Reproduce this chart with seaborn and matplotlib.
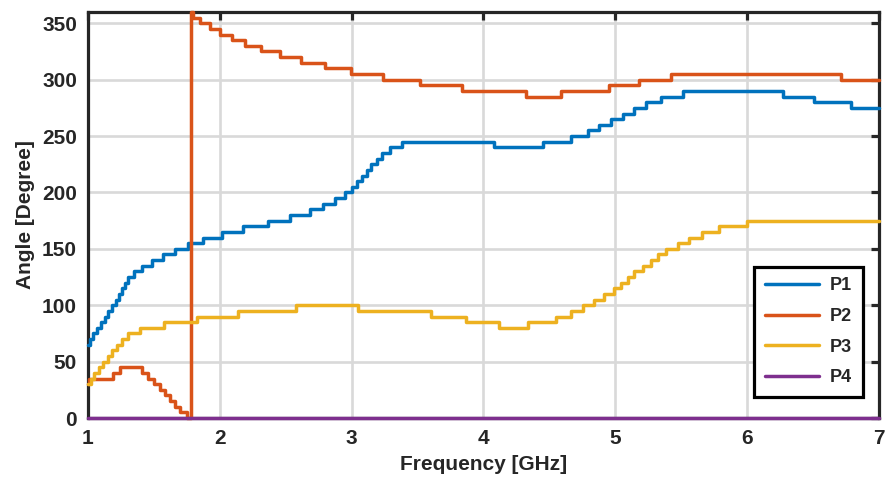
import numpy as np
import pandas as pd
import matplotlib
matplotlib.use("Agg")
import matplotlib.pyplot as plt
import seaborn as sns

# ---- data (step breakpoints in GHz, angle level starting at each breakpoint) ----
p1_freq = [1.000, 1.015, 1.040, 1.070, 1.100, 1.126, 1.152, 1.184, 1.215, 1.235,
           1.255, 1.278, 1.305, 1.348, 1.411, 1.482, 1.571, 1.659, 1.760, 1.874,
           2.013, 2.177, 2.366, 2.530, 2.682, 2.783, 2.871, 2.947, 3.000, 3.040,
           3.080, 3.115, 3.150, 3.190, 3.230, 3.290, 3.380, 4.083, 4.450, 4.664,
           4.790, 4.879, 4.967, 5.055, 5.144, 5.232, 5.346, 5.510, 6.270, 6.510,
           6.785, 7.000]
p1_angle = [65, 70, 75, 80, 85, 90, 95, 100, 105, 110,
            115, 120, 125, 130, 135, 140, 145, 150, 155, 160,
            165, 170, 175, 180, 185, 190, 195, 200, 205, 210,
            215, 220, 225, 230, 235, 240, 245, 240, 245, 250,
            255, 260, 265, 270, 275, 280, 285, 290, 285, 280,
            275, 275]

p2_freq = [1.000, 1.010, 1.190, 1.240, 1.410, 1.457, 1.500, 1.545, 1.583, 1.621,
           1.659, 1.697, 1.748, 1.780, 1.798, 1.848, 1.924, 2.000, 2.089, 2.189,
           2.316, 2.455, 2.619, 2.795, 2.998, 3.237, 3.515, 3.838, 4.323, 4.588,
           4.955, 5.182, 5.420, 6.710, 7.000]
p2_angle = [30, 35, 40, 45, 40, 35, 30, 25, 20, 15,
            10, 5, 0, 360, 355, 350, 345, 340, 335, 330,
            325, 320, 315, 310, 305, 300, 295, 290, 285, 290,
            295, 300, 305, 300, 300]

p3_freq = [1.000, 1.020, 1.045, 1.080, 1.110, 1.150, 1.180, 1.220, 1.260, 1.306,
           1.395, 1.575, 1.830, 2.139, 2.581, 3.048, 3.604, 3.864, 4.121, 4.336,
           4.551, 4.664, 4.752, 4.841, 4.917, 4.992, 5.043, 5.093, 5.144, 5.207,
           5.270, 5.320, 5.384, 5.472, 5.560, 5.660, 5.788, 6.002, 7.000]
p3_angle = [30, 35, 40, 45, 50, 55, 60, 65, 70, 75,
            80, 85, 90, 95, 100, 95, 90, 85, 80, 85,
            90, 95, 100, 105, 110, 115, 120, 125, 130, 135,
            140, 145, 150, 155, 160, 165, 170, 175, 175]

p4_freq = [1.0, 7.0]
p4_angle = [0, 0]

series_names = ["P1", "P2", "P3", "P4"]
colors = ["#0072BD", "#D95319", "#EDB120", "#7E2F8E"]

x_ticks = [1, 2, 3, 4, 5, 6, 7]
y_ticks = [0, 50, 100, 150, 200, 250, 300, 350]

frames = []
for name, f, a in zip(series_names,
                      [p1_freq, p2_freq, p3_freq, p4_freq],
                      [p1_angle, p2_angle, p3_angle, p4_angle]):
    frames.append(pd.DataFrame({"Frequency": f, "Angle": a, "Port": name}))
df = pd.concat(frames, ignore_index=True)

# ---- styling ----
sns.set_theme(style="white")
plt.rcParams["font.family"] = ["Liberation Sans", "DejaVu Sans"]
plt.rcParams["font.weight"] = "bold"

fig = plt.figure(figsize=(8.87, 4.88), dpi=100)
ax = fig.add_axes([88 / 887, 1 - 418 / 488, 791 / 887, 406 / 488])

sns.lineplot(data=df, x="Frequency", y="Angle", hue="Port",
             hue_order=series_names, palette=dict(zip(series_names, colors)),
             estimator=None, sort=False, drawstyle="steps-post",
             linewidth=2.5, legend=False, ax=ax, zorder=3, clip_on=False)

ax.set_xlim(1, 7)
ax.set_ylim(0, 360)
ax.set_xticks(x_ticks)
ax.set_yticks(y_ticks)
ax.set_xticklabels([str(t) for t in x_ticks])
ax.set_yticklabels([str(t) for t in y_ticks])

ax.grid(True, color="#d9d9d9", linewidth=1.9)
ax.set_axisbelow(True)

for s in ax.spines.values():
    s.set_color("#262626")
    s.set_linewidth(2.3)
    s.set_visible(True)

ax.tick_params(axis="both", which="major", direction="in", length=6, width=2.3,
               color="#262626", labelsize=15, labelcolor="#262626",
               top=True, right=True, pad=8)
for lbl in ax.get_xticklabels() + ax.get_yticklabels():
    lbl.set_fontweight("bold")

ax.set_xlabel("Frequency [GHz]", fontsize=15, fontweight="bold", color="#262626", labelpad=5)
ax.set_ylabel("Angle [Degree]", fontsize=15, fontweight="bold", color="#262626", labelpad=5)

lines = ax.get_lines()[:4]
leg = ax.legend(lines, series_names, loc="lower right", bbox_to_anchor=(0.98, 0.052),
                borderaxespad=0, fancybox=False, framealpha=1, edgecolor="black",
                prop={"weight": "bold", "size": 13}, handlelength=3.0,
                labelspacing=0.75, borderpad=0.6, handletextpad=0.6)
leg.get_frame().set_linewidth(2.3)
leg.set_zorder(5)

fig.savefig("out.png", dpi=100)
